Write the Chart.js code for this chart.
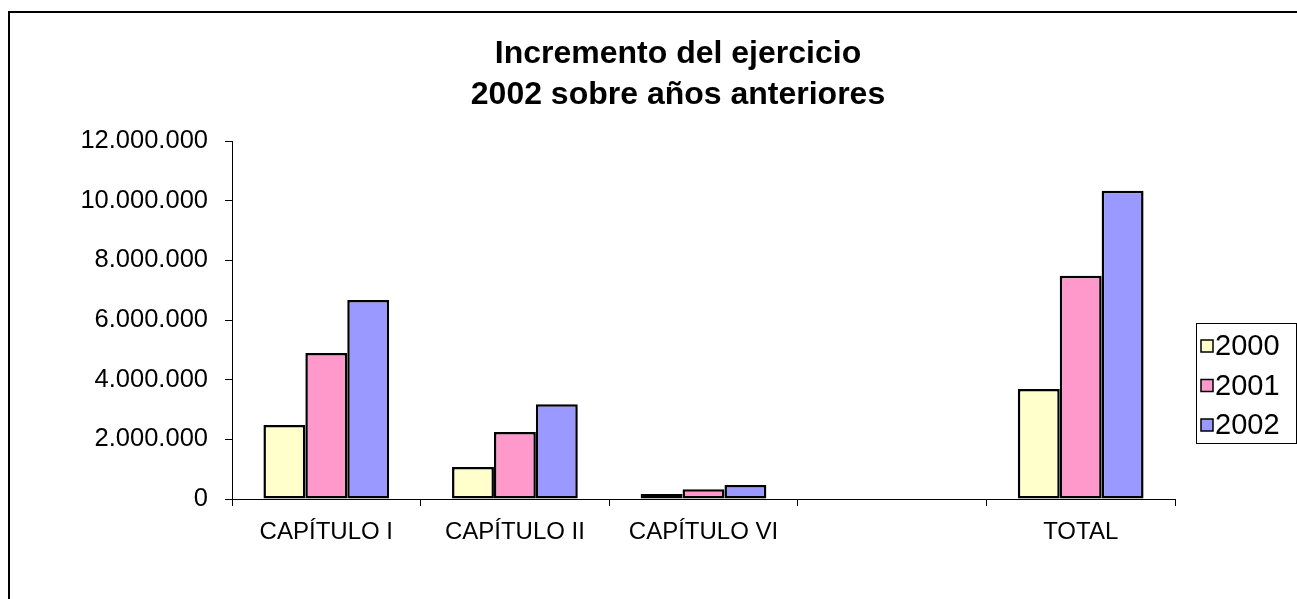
<!DOCTYPE html>
<html>
<head>
<meta charset="utf-8">
<title>Incremento del ejercicio 2002</title>
<script src="https://cdn.jsdelivr.net/npm/chart.js@4"></script>
<style>
  html, body { margin: 0; padding: 0; background: #fff; overflow: hidden; }
  #wrap { position: relative; width: 1297px; height: 599px; }
  #frame { position: absolute; left: 8px; top: 11px; width: 1400px; height: 700px;
           border: 2px solid #000; pointer-events: none; }
  canvas { position: absolute; left: 0; top: 0; }
</style>
</head>
<body>
<div id="wrap">
  <canvas id="chart" width="1297" height="599"></canvas>
  <div id="frame"></div>
</div>
<script>
// Data
const categories = ['CAPÍTULO I', 'CAPÍTULO II', 'CAPÍTULO VI', '', 'TOTAL'];
const seriesNames = ['2000', '2001', '2002'];
const values2000 = [2480000, 1070000, 170000, null, 3690000];
const values2001 = [4890000, 2250000, 330000, null, 7480000];
const values2002 = [6670000, 3180000, 470000, null, 10330000];
const yTicks = [0, 2000000, 4000000, 6000000, 8000000, 10000000, 12000000];
const titleLines = ['Incremento del ejercicio', '2002 sobre años anteriores'];

const colors = ['#FFFFCC', '#FF99CC', '#9999FF'];
const FONT = 'Arial, "Liberation Sans", sans-serif';

// thousands with dots, like the spanish excel format
const fmt = v => String(v).replace(/\B(?=(\d{3})+(?!\d))/g, '.');

// title + legend box drawn by hand so they sit where excel put them
const excelBits = {
  id: 'excelBits',
  afterDraw(chart) {
    const c = chart.ctx;
    c.save();
    c.fillStyle = '#000';
    c.textAlign = 'center';
    c.textBaseline = 'middle';
    c.font = 'bold 32px ' + FONT;
    titleLines.forEach((t, i) => c.fillText(t, 678, 54 + i * 41));

    // legend
    c.strokeStyle = '#000';
    c.lineWidth = 1;
    c.strokeRect(1196.5, 323.5, 100, 120);
    c.font = '29px ' + FONT;
    c.textAlign = 'left';
    chart.data.datasets.forEach((ds, i) => {
      const y = 346 + i * 39.5;
      c.fillStyle = ds.backgroundColor;
      c.fillRect(1201, y - 6, 12, 12);
      c.lineWidth = 1.5;
      c.strokeRect(1201, y - 6, 12, 12);
      c.fillStyle = '#000';
      c.fillText(ds.label, 1215, y + 1);
    });
    c.restore();
  }
};

new Chart(document.getElementById('chart'), {
  type: 'bar',
  data: {
    labels: categories,
    datasets: [
      { label: seriesNames[0], data: values2000, backgroundColor: colors[0] },
      { label: seriesNames[1], data: values2001, backgroundColor: colors[1] },
      { label: seriesNames[2], data: values2002, backgroundColor: colors[2] },
    ].map(ds => Object.assign(ds, {
      borderColor: '#000',
      borderWidth: 2.5,
      borderSkipped: false,
      categoryPercentage: 3 / 4.5,
      barPercentage: 1,
    })),
  },
  options: {
    responsive: false,
    animation: false,
    layout: { padding: { left: 0, right: 122, top: 141, bottom: 0 } },
    plugins: {
      legend: { display: false },
      title: { display: false },
      tooltip: { enabled: false },
    },
    scales: {
      x: {
        afterFit(scale) { scale.height = 100; },
        grid: { offset: true, drawOnChartArea: false, drawTicks: true, tickLength: 7, color: '#000' },
        border: { display: true, color: '#000', width: 1 },
        ticks: { color: '#000', padding: 12, font: { family: FONT, size: 24 }, maxRotation: 0, autoSkip: false },
      },
      y: {
        min: 0,
        max: 12000000,
        afterFit(scale) { scale.width = 232; },
        afterBuildTicks(scale) { scale.ticks = yTicks.map(v => ({ value: v })); },
        grid: { drawOnChartArea: false, drawTicks: true, tickLength: 7, color: '#000' },
        border: { display: true, color: '#000', width: 1 },
        ticks: { color: '#000', padding: 17, font: { family: FONT, size: 25.5 }, callback: v => fmt(v) },
      },
    },
  },
  plugins: [excelBits],
});
</script>
</body>
</html>
